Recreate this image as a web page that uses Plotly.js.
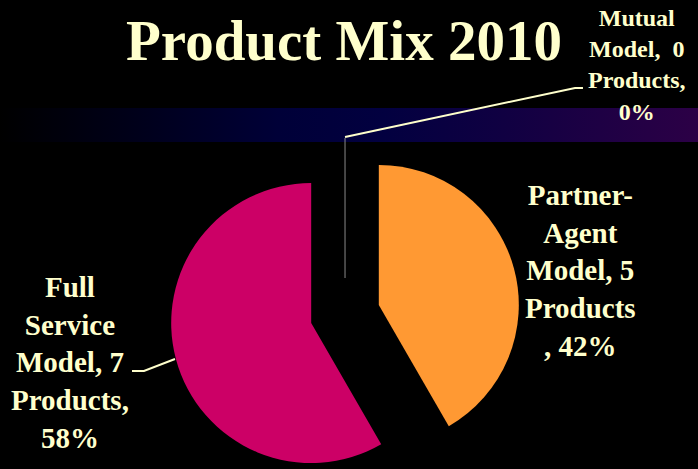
<!DOCTYPE html>
<html>
<head>
<meta charset="utf-8">
<script src="https://cdn.plot.ly/plotly-3.0.1.min.js"></script>
<style>
  html, body { margin: 0; padding: 0; background: #000; overflow: hidden; width: 698px; height: 469px; }
  #band { position: absolute; left: 0; top: 108px; width: 698px; height: 34px;
    background: linear-gradient(to right, #000000 0%, #000018 18%, #000038 40%, #020040 55%, #100042 72%, #2c0046 100%); }
  #chart { position: absolute; left: 0; top: 0; width: 698px; height: 500px; }
</style>
</head>
<body>
<div id="band"></div>
<div id="chart"></div>
<script>
// ---- data ----
const categories = ["Partner-Agent Model", "Full Service Model", "Mutual Model"];
const products = [5, 7, 0];
const percents = ["42%", "58%", "0%"];
const sliceColors = ["#FF9933", "#CC0066", "#3366CC"];
const pulls = [0.25, 0.25, 0];
const labelTexts = [
  "<b>Partner-<br>Agent<br>Model, 5<br>Products<br>, " + percents[0] + "</b>",
  "<b>Full<br>Service<br>Model, 7<br>Products,<br>" + percents[1] + "</b>",
  "<b>Mutual<br>Model,  0<br>Products,<br>" + percents[2] + "</b>"
];
const titleText = "<b>Product Mix 2010</b>";

// ---- layout helpers (pixel -> paper) ----
const W = 698, H = 500;
const px = x => x / W;
const py = y => 1 - y / H;
const pt = (x, y) => px(x).toFixed(4) + "," + py(y).toFixed(4);

const cream = "#FFFFCC";
const serif = "Liberation Serif";

const trace = {
  type: "pie",
  labels: categories,
  values: products,
  sort: false,
  direction: "clockwise",
  rotation: 0,
  pull: pulls,
  marker: { colors: sliceColors, line: { width: 0 } },
  textinfo: "none",
  hoverinfo: "label+value+percent",
  showlegend: false,
  domain: { x: [px(170), px(520)], y: [py(489), py(139)] }
};

const annFont = (s) => ({ family: serif, size: s, color: cream });

const layout = {
  width: W, height: H,
  margin: { l: 0, r: 0, t: 0, b: 0 },
  paper_bgcolor: "rgba(0,0,0,0)",
  plot_bgcolor: "rgba(0,0,0,0)",
  font: { family: serif, color: cream },
  title: {
    text: titleText,
    font: { family: serif, size: 57, color: cream },
    x: px(344), xanchor: "center",
    y: py(20), yanchor: "top"
  },
  annotations: [
    { text: labelTexts[0], x: px(580), y: py(270), xref: "paper", yref: "paper",
      xanchor: "center", yanchor: "middle", showarrow: false, align: "center", font: annFont(29) },
    { text: labelTexts[1], x: px(70), y: py(362), xref: "paper", yref: "paper",
      xanchor: "center", yanchor: "middle", showarrow: false, align: "center", font: annFont(29) },
    { text: labelTexts[2], x: px(637), y: py(65), xref: "paper", yref: "paper",
      xanchor: "center", yanchor: "middle", showarrow: false, align: "center", font: annFont(24) }
  ],
  shapes: [
    { type: "path", xref: "paper", yref: "paper", path: "M" + pt(345, 138) + " L" + pt(345, 278),
      line: { color: "#8a8a8a", width: 1 } },
    { type: "path", xref: "paper", yref: "paper", path: "M" + pt(583, 88) + " L" + pt(575, 88) + " L" + pt(345, 137),
      line: { color: cream, width: 2 } },
    { type: "path", xref: "paper", yref: "paper", path: "M" + pt(132, 371) + " L" + pt(144, 371) + " L" + pt(175, 359),
      line: { color: cream, width: 2 } }
  ]
};

Plotly.newPlot("chart", [trace], layout, { displayModeBar: false, staticPlot: true });
</script>
</body>
</html>
